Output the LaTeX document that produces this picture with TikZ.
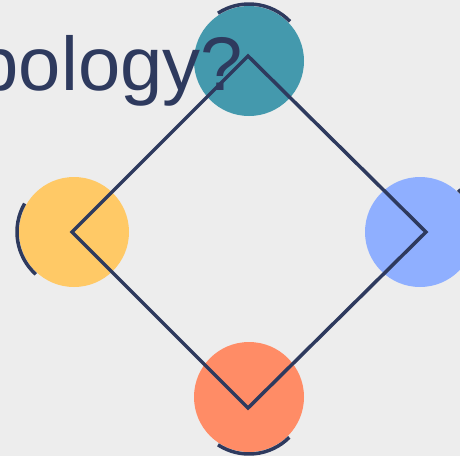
\documentclass[tikz,border=0pt]{standalone}
\usepackage{fontspec}
\setmainfont{Liberation Sans}
\begin{document}
\begin{tikzpicture}[x=1pt,y=-1pt,
  dot/.style={circle,minimum size=110pt,inner sep=0pt,draw=none},
  ring/.style={line width=3.5pt,draw=navy},
  edge/.style={line width=3.5pt,draw=navy,line join=miter}]
\definecolor{bg}{HTML}{EDEDED}
\definecolor{navy}{HTML}{2E3A5E}
\definecolor{teal}{HTML}{4499AD}
\definecolor{yel}{HTML}{FFC966}
\definecolor{blu}{HTML}{8FAFFF}
\definecolor{cor}{HTML}{FF8C66}
\fill[bg] (0,0) rectangle (460,456);
\useasboundingbox (0,0) rectangle (460,456);
\node[dot,fill=teal] (t) at (249,61) {};
\node[dot,fill=yel] (l) at (74,232) {};
\node[dot,fill=blu] (r) at (420,232) {};
\node[dot,fill=cor] (b) at (249,397) {};
\node[anchor=base east,inner sep=0pt,text=navy,font=\fontsize{76}{76}\selectfont] (title) at (243,90) {Topology?};
\coordinate (tv) at (248,56);
\coordinate (lv) at (72,232);
\coordinate (rv) at (426,232);
\coordinate (bv) at (248,408);
\draw[edge] (tv) -- (rv) -- (bv) -- (lv) -- cycle;
\draw[ring] (t.center) ++(-123:57) arc[start angle=-123,end angle=-44,radius=57];
\draw[ring] (l.center) ++(-150:57) arc[start angle=-150,end angle=-228,radius=57];
\draw[ring] (b.center) ++(-237:57) arc[start angle=-237,end angle=-315,radius=57];
\draw[ring] (r.center) ++(-48:57) arc[start angle=-48,end angle=40,radius=57];
\end{tikzpicture}
\end{document}
